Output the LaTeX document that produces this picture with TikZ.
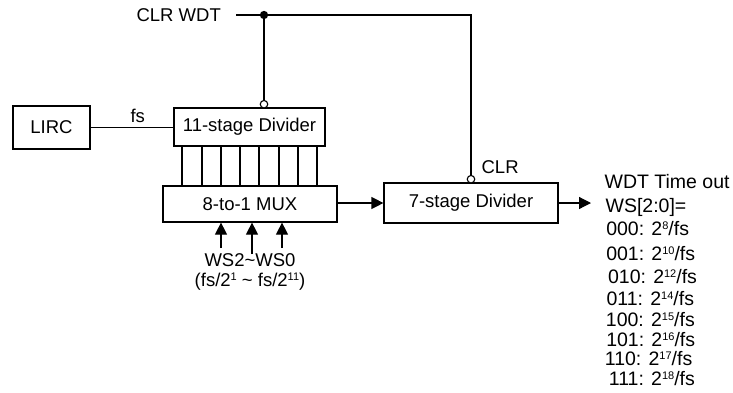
\documentclass[tikz,border=0pt]{standalone}
\usepackage{fontspec}
\setmainfont{Liberation Sans}
\usetikzlibrary{arrows.meta}
\newcommand\mysup[1]{\raisebox{0.3em}{\fontsize{11}{11}\selectfont #1}}
\begin{document}
\begin{tikzpicture}[x=1pt,y=-1pt, line width=1.2pt,
  font=\fontsize{18.5}{21}\selectfont,
  box/.style={draw, rectangle, inner sep=0pt},
  arr/.style={-{Triangle[length=12pt,width=12pt]}},
  lbl/.style={inner sep=0pt, anchor=base west},
  lst/.style={inner sep=0pt, anchor=base west, font=\fontsize{19.5}{21}\selectfont},
  bub/.style={draw, circle, fill=white, minimum size=7.5pt, inner sep=0pt, line width=1.1pt}]
\useasboundingbox (0,0) rectangle (733,392);
% boxes
\node[box, minimum width=77pt, minimum height=43pt] (lirc) at (51.5,127.5) {LIRC};
\node[box, minimum width=151pt, minimum height=38pt] (div11) at (249.5,127) {11-stage Divider};
\node[box, minimum width=174pt, minimum height=36pt] (mux) at (250,204) {8-to-1 MUX};
\node[box, minimum width=174pt, minimum height=40pt] (div7) at (471,203) {7-stage Divider};
% labels
\node[lbl] (clrwdt) at (136,21.5) {CLR WDT};
\node[lbl] (fs) at (130,122.7) {fs};
\node[lbl] (clr) at (481,173.3) {CLR};
\node[inner sep=0pt, anchor=base] (ws) at (250,266) {WS2\textasciitilde WS0};
\node[inner sep=0pt, anchor=base] (rng) at (250,286) {(fs/2\mysup{1} \textasciitilde{} fs/2\mysup{11})};
\node[lst] (wdt) at (604,188.3) {WDT Time out};
\node[lst] (wsb) at (605,212) {WS[2:0]=};
\node[lst] (l0) at (605.7,235.7) {000: 2\mysup{8}/fs};
\node[lst] (l1) at (605.7,260) {001: 2\mysup{10}/fs};
\node[lst] (l2) at (607.5,283.3) {010: 2\mysup{12}/fs};
\node[lst] (l3) at (606,305) {011: 2\mysup{14}/fs};
\node[lst] (l4) at (605.3,326) {100: 2\mysup{15}/fs};
\node[lst] (l5) at (605.7,346.7) {101: 2\mysup{16}/fs};
\node[lst] (l6) at (604.3,365) {110: 2\mysup{17}/fs};
\node[lst] (l7) at (608.3,385) {111: 2\mysup{18}/fs};
% clear line
\coordinate (wstart) at (236,15);
\coordinate (corner) at (471,15);
\node[draw, circle, fill, minimum size=7pt, inner sep=0pt] (dot) at (264,15) {};
\node[bub] (c11) at (264,104.2) {};
\node[bub] (c7) at (471,179.2) {};
\draw (wstart) -- (corner) -- (c7.north);
\draw (dot) -- (c11.north);
% fs
\draw (lirc.east) -- (lirc.east -| div11.west);
% divider taps
\foreach \xx in {182,202,221,240,259,279,298,317} {
  \coordinate (v) at (\xx,0);
  \draw (div11.south -| v) -- (mux.north -| v);
}
% select arrows
\coordinate (s2) at (221,248);
\coordinate (s1) at (252,254);
\coordinate (s0) at (282,248);
\draw[arr] (s2) -- (s2 |- mux.south);
\draw[arr] (s1) -- (s1 |- mux.south);
\draw[arr] (s0) -- (s0 |- mux.south);
% mux to div7
\draw[arr] (mux.east |- div7.west) -- (div7.west);
% output
\coordinate (out) at (591,203);
\draw[arr] (div7.east) -- (out);
\end{tikzpicture}
\end{document}
